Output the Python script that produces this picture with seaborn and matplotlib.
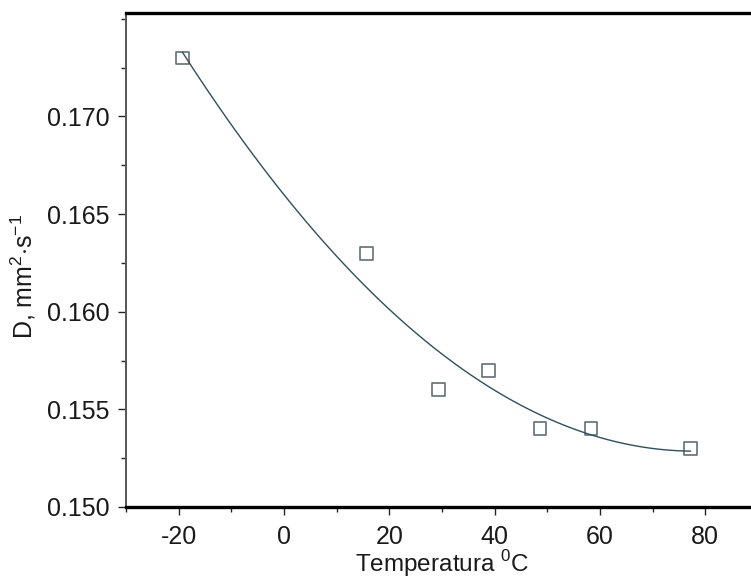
import numpy as np
import pandas as pd
import seaborn as sns
import matplotlib.pyplot as plt
from matplotlib.ticker import MultipleLocator, FixedLocator

temperature = [-19.3, 15.6, 29.3, 38.8, 48.6, 58.3, 77.2]
diffusivity = [0.1730, 0.1630, 0.1560, 0.1570, 0.1540, 0.1540, 0.1530]
y_major = [0.150, 0.155, 0.160, 0.165, 0.170]

data = pd.DataFrame({'Temperatura': temperature, 'D': diffusivity})

sns.set_style('ticks')
plt.rcParams['font.family'] = ['Liberation Sans', 'DejaVu Sans']
plt.rcParams['mathtext.fontset'] = 'custom'
plt.rcParams['mathtext.rm'] = 'Liberation Sans'
plt.rcParams['axes.unicode_minus'] = False
plt.rcParams['axes.labelcolor'] = '#1a1a1a'
plt.rcParams['xtick.labelcolor'] = '#1a1a1a'
plt.rcParams['ytick.labelcolor'] = '#1a1a1a'

fig = plt.figure(figsize=(7.51, 5.78), dpi=100)
# axes runs a little past the right edge, as in the cropped original
ax = fig.add_axes([126 / 751, 71 / 578, 632 / 751, 494 / 578])

sns.regplot(data=data, x='Temperatura', y='D', order=2, ci=None, ax=ax,
            marker='s', color='#2f4f5f',
            scatter_kws={'facecolors': 'none', 'edgecolors': '#3a4a55',
                         's': 85, 'linewidths': 1.2},
            line_kws={'linewidth': 1.0, 'color': '#2f4f5f'})

ax.set_xlim(-30, 90)
ax.set_ylim(0.150, 0.1753)
ax.xaxis.set_major_locator(MultipleLocator(20))
ax.xaxis.set_minor_locator(MultipleLocator(10))
ax.yaxis.set_major_locator(FixedLocator(y_major))
ax.yaxis.set_minor_locator(MultipleLocator(0.0025))
ax.yaxis.set_major_formatter(plt.FormatStrFormatter('%.3f'))

ax.tick_params(which='major', direction='out', length=6, width=1, labelsize=18, pad=6)
ax.tick_params(which='minor', direction='out', length=3.5, width=1)
ax.tick_params(axis='x', which='major', pad=7)

ax.spines['right'].set_visible(False)
ax.spines['top'].set_linewidth(2.4)
ax.spines['top'].set_color('black')
ax.spines['bottom'].set_linewidth(2.4)
ax.spines['bottom'].set_color('black')
ax.spines['left'].set_linewidth(1.4)
ax.spines['left'].set_color('#555555')

ax.set_xlabel('Temperatura $^{0}$C', fontsize=17.5, labelpad=0)
ax.set_ylabel('D, mm$^{2}$$\\cdot$s$^{-1}$', fontsize=18)
ax.yaxis.set_label_coords(-0.139, 0.466)
ax.xaxis.set_label_coords(0.5, -0.083)

fig.savefig('out.png', dpi=100)
